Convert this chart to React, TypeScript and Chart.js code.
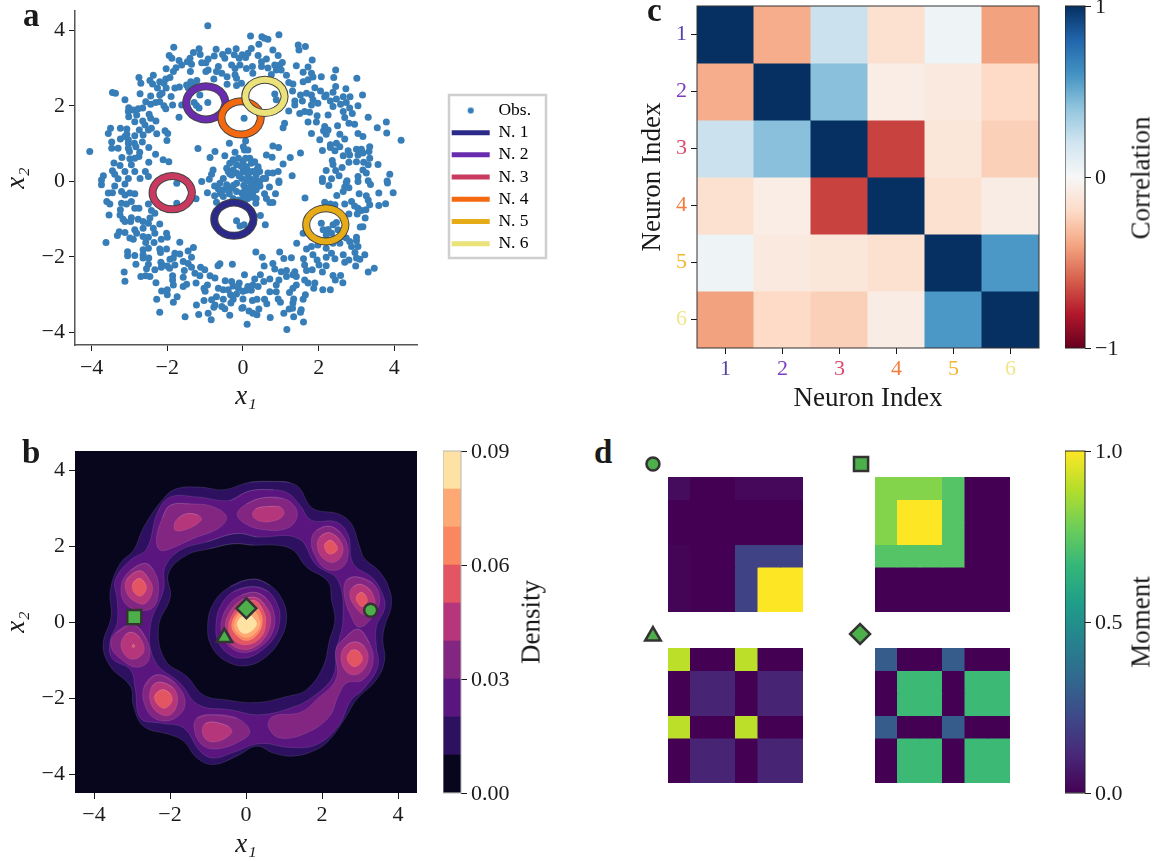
import React, { useEffect, useRef } from "react";
import { Chart, registerables } from "chart.js";

Chart.register(...registerables);

type Pt = [number, number];

const obsUpperLeft: Pt[] = [[-.93,4.12],[-1.83,3.55],[-1.95,3.33],[-1.88,3.26],[-1.69,3.2],[-1.62,3.08],[-1.77,3.01],[-1.84,2.91],[-2.03,2.98],[-1.4,3.26],[-1.31,3.41],[-1.16,3.51],[-1.13,3.36],[-1.47,3.17],[-1.36,3.1],[-1.39,2.91],[-1.09,3.14],[-.98,3.14],[-.92,3.24],[-.76,3.32],[-.71,3.5],[-.54,3.36],[-.48,3.26],[-.39,3.45],[-.18,3.51],[-.23,3.35],[-.1,3.26],[-.02,3.35],[-.3,3.08],[-.21,2.99],[-.08,3.08],[-.65,3.04],[-.7,2.91],[-.56,2.86],[-.77,2.71],[-.92,2.95],[-.98,2.91],[-.42,2.77],[-.42,2.57],[-.21,2.82],[-.17,2.54],[-.04,2.6],[-.17,2.73],
[-2.75,2.75],[-2.7,2.6],[-2.37,2.81],[-2.46,2.67],[-2.39,2.58],[-2.26,2.47],[-2.2,2.64],[-2.04,2.71],[-1.93,2.75],[-2.09,2.6],[-2.03,2.47],[-1.8,2.47],[-1.68,2.5],[-1.49,2.55],[-1.38,2.64],[-1.22,2.67],[-1.31,2.54],[-1.45,2.48],
[-2.72,2.32],[-3.45,2.35],[-3.37,2.33],[-3.12,2.16],[-2.44,2.26],[-2.2,2.29],[-2.14,2.33],[-1.9,2.25],[-2.57,2.11],[-2.44,2.04],[-2.31,2.09],[-2.2,2.11],[-2.09,2],[-2.04,1.92],[-1.86,2.02],[-1.62,2.02],[-1.69,1.7],
[-1.14,2.29],[-1.29,2.09],[-1.23,2.01],[-1.16,1.94],[-.93,2.09],
[-3.02,1.95],[-3.03,1.85],[-3.02,1.71],[-2.9,1.89],[-2.77,1.92],[-2.65,1.94],[-2.81,1.76],[-2.65,1.6],[-2.86,1.58],[-2.48,1.78],[-2.44,1.67],[-2.3,1.6],[-2.59,1.49],[-2.42,1.41],[-2.5,1.36],[-2.74,1.36],[-2.64,1.23],[-2.28,1.26],[-2.06,1.34],[-1.99,1.27],[-2.01,1.08],[-3.24,1.41],[-3.5,1.41],[-3.56,1.27],[-3.07,1.39],[-3.07,1.25],[-2.86,1.21],[-3.24,1.12],[-3.12,1.19],[-3.03,1.1],[-3.47,1.04],[-3.47,.88],[-3.3,.88],[-3.03,1.01],[-3.03,.88],[-2.87,1.01],[-2.66,1.04],[-2.49,.9],[-2.83,.92],[-3,.79],[-2.73,.77],[-2.75,.66],[-2.31,.72],[-3.2,.63],[-2.99,.6],[-2.86,.61],[-2.11,.57],[-1.96,.52],[-2.49,.51],[-3.41,.49],[-3.25,.42],[-2.95,.44],[-4.05,.79],[-3.12,.26],[-2.86,.26],[-2.58,.26],[-3.45,.28],[-3.39,.19],[-3.69,.15],[-3.74,.04],[-3.3,.07],[-3.03,.08],[-2.72,.08],[-2.5,.13],
[-1.19,.87],[-.74,.79],[-.87,.63],[-.36,1.01],[-.48,.68],[-.21,.77],[.01,.92],[.03,1.67],[-.79,.3],[-.83,.19],[-.89,.06],[-.52,.08],[-.43,.35],[-.39,.26],[-.26,.57],[-.12,.61],[-.17,.44],[0,.52],[-.17,.22],[0,.26],[-.26,.3],[-.3,.17],[-.03,.08]];

const obsUpperRight: Pt[] = [[.2,3.85],[.95,3.88],[.5,3.83],[.57,3.79],[.66,3.76],[.42,3.63],[.22,3.52],[.79,3.48],[.13,3.39],[.93,3.33],[.4,3.33],[.62,3.24],[.07,3.28],[1.04,3.15],[.49,3.17],[.97,3.08],[.84,3.08],[1.46,3.61],[1.65,3.57],[1.48,3.48],[1.83,3.21],[1.41,3.06],[1.72,3.03],[.25,3.04],[.49,3.04],[.66,3],[.88,2.95],[1.01,2.95],[.09,2.99],[2.45,2.95],[1.59,2.89],[1.81,2.86],[2.07,2.77],[2.4,2.75],[3.01,2.73],[1.15,2.81],[.75,2.83],[.26,2.86],[1.72,2.69],[1.85,2.76],[1.59,2.64],[1.21,2.62],[1.32,2.58],[1.31,2.39],[1.9,2.48],[2.05,2.39],[2.45,2.51],[2.72,2.45],[.84,2.31],[.88,2.16],[1.52,2.29],[1.68,2.33],[1.81,2.29],[2.2,2.29],[2.38,2.36],[2.65,2.24],[2.83,2.24],[3.16,2.29],[1.37,2.13],[1.57,2.13],[1.85,2.16],[2.16,2.24],[2.31,2.13],[2.47,2.18],[1.37,2.02],[1.81,2.02],[1.98,2.07],[2.38,1.98],[2.58,2.04],[2.73,2.09],[3.04,2],[1.21,1.86],[1.5,1.8],[1.63,1.85],[1.76,1.83],[1.96,1.74],[2.25,1.76],[2.65,1.85],[2.82,1.94],[2.89,1.8],[2.69,1.69],[3.31,1.7],[3.79,1.57],[1.72,1.57],[1.94,1.57],[1.1,1.54],[1.06,1.42],[2.5,1.47],[2.8,1.54],[2.95,1.51],[3.55,1.42],[3.8,1.28],[2.16,1.45],[2.13,1.34],[2.25,1.36],[1.81,1.27],[2.2,1.25],[2.56,1.25],[3.04,1.27],[3.17,1.19],[4.18,1.09],[2.03,1.1],[2.69,1.12],[2.47,1.01],[2.31,.97],[.79,.94],[.94,.9],[3.35,.92],[2.31,.9],[2.56,.92],[2.1,.82],[1.52,.75],[2.43,.81],[2.78,.81],[3,.85],[3.13,.85],[3.33,.79],[2.65,.68],[2.82,.7],[3.04,.7],[3.17,.75],[.62,.7],[.77,.64],[1.25,.63],[3.35,.61],[2.36,.55],[2.38,.45],[2.8,.51],[3,.52],[3.19,.51],[1.06,.46],[3.57,.45],[3.31,.44],[2.62,.37],[2.2,.29],[2.45,.29],[3.17,.3],[3.88,.19],[3.26,.22],[3.04,.13],[2.54,.15],[2.34,.07],[2.1,.08],[1.3,.15],[2.75,.02],[3.31,.02],[3.81,.01],
[.07,1.07],[.04,.83],[.13,.83],[.18,.61],[.31,.52],[.07,.61],[.4,.39],[.09,.39],[.22,.48],[.07,.26],[.26,.26],[.44,.26],[.66,.22],[.79,.22],[.93,.26],[.53,.08],[.18,.08],[.95,.01],[.35,.17],[.13,.17]];

const obsLowerLeft: Pt[] = [[-3.74,-.09],[-3.39,-.12],[-3.12,-.07],[-3.56,-.31],[-3.45,-.3],[-3.21,-.27],[-3.12,-.36],[-2.99,-.31],[-2.86,-.33],[-3.6,-.53],[-3.52,-.6],[-3.21,-.58],[-3.08,-.6],[-2.95,-.53],[-2.86,-.71],[-2.75,-.71],[-2.5,-.6],[-2.42,-.77],[-2.33,-.84],[-3.54,-.89],[-3.24,-.75],[-3.25,-.89],[-3.17,-1],[-3.12,-1.06],[-2.95,-.96],[-2.97,-1.06],[-2.77,-1],[-2.64,-1.06],[-2.46,-.97],[-2.2,-1.13],[-2.5,-1.11],[-2.64,-1.24],[-2.37,-1.24],[-3.27,-1.33],[-3.32,-1.43],[-3.12,-1.35],[-2.86,-1.28],[-2.99,-1.5],[-2.9,-1.53],[-2.81,-1.37],[-2.64,-1.46],[-2.5,-1.48],[-2.33,-1.37],[-2.02,-1.37],[-2,-1.48],[-2.16,-1.53],[-2.57,-1.62],[-2.35,-1.62],[-3.62,-1.62],[-1.67,-1.61],
[-2.5,-1.77],[-2.64,-1.81],[-2.2,-1.79],[-2.02,-1.79],[-2.18,-1.88],[-1.31,-1.75],[-1.45,-1.84],[-3.05,-1.86],[-3.05,-1.97],[-2.86,-1.96],[-2.64,-1.94],[-1.8,-1.9],[-1.67,-1.92],[-2.64,-2.03],[-2.49,-2.03],[-1.84,-2.03],[-1.93,-2.06],[-1.36,-2.01],[-2.17,-2.14],[-2.83,-2.19],[-2.5,-2.19],[-2.13,-2.21],[-2,-2.24],[-1.8,-2.21],[-1.58,-2.12],[-1.45,-2.17],[-.61,-2.18],[-.66,-2.23],[-.28,-2.19],[-2.55,-2.31],[-2.33,-2.34],[-2.16,-2.27],[-1.94,-2.3],[-1.36,-2.27],[-1.12,-2.27],[-1.01,-2.34],[-1.55,-2.36],[-3.14,-2.4],[-3.12,-2.64],[-2.7,-2.52],[-2.57,-2.5],[-2.46,-2.52],[-1.86,-2.5],[-1.58,-2.54],[-1.27,-2.43],[-1.14,-2.5],[-.87,-2.5],[-.74,-2.56],[-2.3,-2.68],[-1.86,-2.61],[-1.84,-2.74],[-1.24,-2.69],[-1.49,-2.72],[-1.58,-2.78],[-.94,-2.74],[-1.03,-2.83],[-.47,-2.63],[-.3,-2.65],[-.1,-2.69],[-.26,-2.77],[-2.15,-2.9],[-2,-2.87],[-2,-3],[-1,-2.91],[-.65,-2.83],[-.52,-2.87],[-.39,-2.87],[-.12,-2.83],[-2.28,-3.12],[-1.74,-3.05],[-1.84,-3.2],[-.7,-3.05],[-.33,-3],[-.17,-2.98],[0,-2.91],[-.83,-3.13],[-1.03,-3.15],[-1.23,-3.27],[-.52,-3.12],[-.26,-3.12],[-.74,-3.27],[-.77,-3.33],[-.56,-3.31],[-.48,-3.37],[-.32,-3.22],[-.03,-3.36],[-2.2,-3.46],[-1.53,-3.58],[-1.17,-3.52],[-.92,-3.49],[-.84,-3.66],[-.35,-3.54],
[-1.75,-.58],[-1.75,-.05],[-1.24,-.46],[-.94,-.3],[-.7,-.55],[-.61,-.05],[-.52,-.23],[-.43,-.09],[-.3,-.18],[-.17,-.27],[-.03,-.31],[-.17,-.05],[.05,-.14],[-.52,-.4],[-.26,-.45],[-.12,-.49],[-.17,-1.04],[-.08,-1.18],[.03,-1.15],[0,-.45],[-1.09,0]];

const obsLowerRight: Pt[] = [[.95,-.03],[.31,-.09],[.44,0],[.26,0],[.18,-.18],[.35,-.22],[.04,-.27],[.26,-.36],[.35,-.45],[.57,-.33],[.86,-.33],[.62,-.45],[.71,-.56],[.79,-.56],[.13,-.45],[.34,-.58],[.46,-.9],[.59,-1.15],[1.64,-.44],
[2.1,0],[2.27,-.11],[2.73,-.03],[2.69,-.15],[2.8,-.17],[3.04,0],[3.37,-.08],[3.82,-.04],[2.48,-.37],[2.65,-.27],[3.07,-.33],[3.26,-.38],[3.59,-.31],[3.97,-.3],[3.31,-.49],[2.69,-.6],[2.87,-.53],[3.35,-.62],[2.95,-.65],[3.04,-.71],[3.13,-.77],[3.25,-.75],[3.59,-.64],[3.77,-.59],[2.16,-.55],[2.31,-.6],[2.43,-.62],[3.02,-.86],[2.8,-.86],[3.23,-.97],[3.17,-1.2],[3.1,-1.21],[3,-1.48],[3,-1.57],
[2.07,-1.11],[2.12,-1.28],[2.25,-1.27],[2.38,-1.15],[2.47,-1.09],[2.34,-1.37],[2.2,-1.42],[2.51,-1.28],
[1.59,-1.37],[1.42,-1.64],[1.68,-1.79],[1.81,-1.72],[1.98,-1.68],[2.2,-1.77],[2.38,-1.64],[2.56,-1.64],[2.73,-1.5],[2.82,-1.59],[2.87,-1.72],[3.04,-1.72],[2.65,-1.46],
[.34,-1.87],[.97,-1.87],[.51,-2.01],[1.08,-2.04],[1.28,-2.02],[1.6,-2.05],[1.85,-1.94],[1.96,-2.08],[2.2,-2.01],[2.34,-1.9],[2.43,-2.05],[2.65,-1.94],[2.96,-1.88],[3,-2.03],[3.22,-1.94],[3.09,-2.06],[.79,-2.17],[.56,-2.24],[.84,-2.32],[1.63,-2.21],[2.01,-2.21],[2.2,-2.23],[2.69,-2.14],[2.8,-2.08],[2.98,-2.24],[3.47,-2.3],[3.31,-2.4],[1.01,-2.39],[1.15,-2.36],[1.37,-2.39],[1.68,-2.36],[1.83,-2.34],[2.1,-2.4],[.04,-2.47],[.46,-2.47],[1.15,-2.52],[1.32,-2.47],[1.41,-2.52],[2.38,-2.49],[2.58,-2.49],[2.44,-2.61],[2.64,-2.68],
[.31,-2.58],[.71,-2.58],[.55,-2.65],[.95,-2.61],[1.63,-2.61],[1.72,-2.69],[1.9,-2.69],[1.87,-2.83],[2.11,-2.87],[2.31,-2.87],[.88,-2.74],[1.41,-2.74],[1.32,-2.83],[.13,-2.78],[.26,-2.74],[.4,-2.78],[.09,-2.88],[.22,-2.88],[.71,-2.92],[.88,-2.92],[1.23,-2.94],[1.65,-3],[1.59,-3.12],[0,-3.11],[.25,-3.15],[.37,-3.12],[.57,-3.12],[.93,-3.11],[1.34,-3.11],[.99,-3.2],[.63,-3.24],[1.32,-3.22],[1.54,-3.4],[1.52,-3.46],[1.31,-3.36],[1.22,-3.38],[0,-3.34],[.42,-3.38],[.16,-3.43],[.26,-3.49],[.37,-3.53],[1.08,-3.49],[.72,-3.6],[1.34,-3.58],[.11,-3.78],[1.6,-3.72],[1.16,-3.92]];

const obsCentre: Pt[] = [[-.35,.48],[-.05,.4],[-.35,.2],[-.1,.14],[.12,.3],[.36,.3],[.33,.05],[.6,.08],[.1,.02],[-.25,-.1],[-.45,-.18],[.02,-.1],[.22,-.1],[.2,-.3],[-.36,-.33],[.1,-.35],[.25,-.42],[.05,-.52],[-.65,-.2],[-.75,-.12],[-.6,-.32],[-.75,-.38],[.45,-.12],[.7,-.15]];

const neuronNames = ["N. 1", "N. 2", "N. 3", "N. 4", "N. 5", "N. 6"];
const neuronColors = ["#2c2a89", "#6a2cae", "#c83a5f", "#f4680f", "#e6ac17", "#ebe27a"];
const neuronTickColors = ["#5145ab", "#7a3dbd", "#dd4a6d", "#f47c3c", "#f1b62e", "#f0e68c"];
const ringCenterX = [-0.24, -0.98, -1.87, -0.05, 2.19, 0.58];
const ringCenterY = [-1.0, 2.08, -0.3, 1.68, -1.15, 2.25];
const ringShape: Pt[] = [[.52,0],[.45,.22],[.26,.38],[0,.44],[-.26,.38],[-.45,.22],[-.52,0],[-.45,-.22],[-.26,-.38],[0,-.44],[.26,-.38],[.45,-.22]];
const axisTicks = [-4, -2, 0, 2, 4];

// ---------- Panel b: density contours ----------
const bandColors = ["#07061c", "#2d1160", "#5a167e", "#832681", "#b5367a", "#e45563", "#fb8761", "#fea973", "#fde2a3"];
const bandEdges = [0, .01, .02, .03, .04, .05, .06, .07, .08, .09];
const densityTicks = [0, .03, .06, .09];

const ringOuter1: Pt[] = [[.76,3.7],[1.15,3.67],[1.42,3.51],[1.64,3.11],[1.85,2.94],[2.42,2.85],[2.77,2.59],[2.99,1.98],[3.12,1.67],[3.52,1.32],[3.78,.84],[3.82,.4],[3.65,-.12],[3.6,-.47],[3.65,-1],[3.43,-1.52],[2.9,-2.05],[2.64,-2.48],[2.2,-3.1],[1.85,-3.36],[1.24,-3.53],[.72,-3.45],[.28,-3.27],[-.24,-3.53],[-.86,-3.75],[-1.29,-3.58],[-1.64,-3.14],[-1.99,-2.97],[-2.69,-2.75],[-2.96,-2.22],[-3.04,-1.7],[-3.57,-1.17],[-3.76,-.6],[-3.55,.14],[-3.57,.84],[-3.31,1.54],[-2.96,1.89],[-2.69,2.5],[-2.17,3.25],[-1.82,3.51],[-1.21,3.55],[-.59,3.48],[.1,3.68]];
const ringInner1: Pt[] = [[-.33,2.06],[.19,2.02],[.8,2.02],[1.24,1.89],[1.59,1.45],[2.16,1.06],[2.25,.58],[2.34,.05],[2.2,-.47],[2.03,-1.17],[1.59,-1.78],[1.07,-1.96],[.28,-2.12],[-.51,-2.05],[-1.12,-1.92],[-1.56,-1.43],[-2.13,-1],[-2.3,-.12],[-1.99,.66],[-2.04,1.28],[-1.56,1.76],[-.94,1.93]];
const ringOuter2: Pt[] = [[.1,3.45],[.72,3.48],[1.11,3.39],[1.42,3.07],[1.72,2.68],[2.38,2.63],[2.69,2.28],[2.82,1.54],[3.34,1.15],[3.6,.71],[3.65,.36],[3.43,-.12],[3.43,-.65],[3.47,-1.17],[3.08,-1.78],[2.77,-2.05],[2.42,-2.75],[1.85,-3.23],[1.15,-3.3],[.37,-3.2],[-.33,-3.43],[-.86,-3.58],[-1.21,-3.4],[-1.64,-2.79],[-2.26,-2.66],[-2.78,-2.53],[-2.91,-1.78],[-3.04,-1.26],[-3.53,-.95],[-3.57,-.47],[-3.39,-.03],[-3.39,.58],[-3.44,1.1],[-3.04,1.63],[-2.61,1.93],[-2.34,2.85],[-1.99,3.29],[-1.29,3.29],[-.42,3.2]];
const ringInner2: Pt[] = [[-.24,2.33],[.28,2.24],[1.37,2.2],[1.85,1.5],[2.42,1.1],[2.55,.05],[2.38,-.73],[2.29,-1.43],[1.77,-1.96],[1.24,-2.24],[.37,-2.44],[-.42,-2.31],[-1.25,-2.18],[-1.73,-1.61],[-2.39,-1.04],[-2.52,-.12],[-2.17,.84],[-2.13,1.45],[-1.73,1.89],[-1.03,2.11]];

const islands3: Pt[][] = [
  [[-1.99,3.07],[-1.47,3.11],[-.86,3.03],[-.51,2.76],[-.73,2.46],[-1.38,2.2],[-1.99,1.93],[-2.26,1.89],[-2.36,2.15],[-2.21,2.72]],
  [[.45,3.27],[.98,3.25],[1.29,3.03],[1.33,2.72],[1.07,2.46],[.45,2.43],[-.03,2.59],[-.23,2.85],[.02,3.11]],
  [[2.2,2.52],[2.51,2.33],[2.69,1.89],[2.55,1.45],[2.12,1.39],[1.81,1.76],[1.72,2.15],[1.85,2.41]],
  [[2.9,1.19],[3.34,1.01],[3.52,.62],[3.39,.23],[2.99,-.14],[2.73,.23],[2.58,.75],[2.64,1.1]],
  [[2.95,-.19],[3.25,-.56],[3.34,-1.08],[3.08,-1.52],[2.64,-1.61],[2.42,-1.96],[2.2,-2.48],[1.59,-2.92],[.89,-3.05],[.59,-2.75],[.72,-2.48],[1.42,-2.38],[1.85,-2.05],[2.38,-1.48],[2.36,-.73],[2.55,-.47]],
  [[-.94,-2.44],[-.24,-2.53],[.1,-2.88],[-.16,-3.14],[-.77,-3.34],[-1.16,-3.23],[-1.36,-2.83],[-1.29,-2.53]],
  [[-2.34,-1.39],[-1.86,-1.61],[-1.6,-2.13],[-1.86,-2.53],[-2.34,-2.57],[-2.65,-2.22],[-2.68,-1.7]],
  [[-2.96,-.08],[-2.61,-.47],[-2.56,-1],[-2.87,-1.19],[-3.26,-1],[-3.55,-.65],[-3.44,-.3]],
  [[-2.65,1.54],[-2.43,1.36],[-2.3,.93],[-2.43,.4],[-2.78,.31],[-3.18,.49],[-3.28,.97],[-3.04,1.36]],
];
const islands4: Pt[][] = [
  [[-1.56,2.85],[-1.25,2.81],[-1.18,2.68],[-1.51,2.46],[-1.84,2.4],[-1.89,2.55],[-1.8,2.72]],
  [[.45,3.03],[.89,3.03],[1,2.85],[.8,2.68],[.37,2.65],[.17,2.81],[.25,2.97]],
  [[2.2,2.35],[2.47,2.15],[2.55,1.85],[2.34,1.58],[2.03,1.67],[1.88,1.98],[1.94,2.24]],
  [[3.04,.99],[3.3,.8],[3.39,.4],[3.17,.18],[2.9,.36],[2.73,.71],[2.82,.93]],
  [[2.86,-.52],[3.12,-.65],[3.21,-1],[2.99,-1.35],[2.69,-1.35],[2.51,-1.04],[2.57,-.69]],
  [[-.86,-2.63],[-.46,-2.75],[-.38,-2.92],[-.73,-3.14],[-1.03,-3.11],[-1.15,-2.88],[-1.08,-2.68]],
  [[-2.26,-1.58],[-1.91,-1.74],[-1.8,-2.09],[-1.99,-2.44],[-2.3,-2.4],[-2.52,-2.09],[-2.48,-1.7]],
  [[-3,-.27],[-2.78,-.43],[-2.69,-.78],[-2.96,-.98],[-3.18,-.87],[-3.29,-.6],[-3.18,-.34]],
  [[-2.8,1.35],[-2.56,1.15],[-2.46,.84],[-2.65,.49],[-2.91,.53],[-3.13,.75],[-3.15,1.1]],
];
const islands5: Pt[][] = [
  [[2.22,2.15],[2.38,2.02],[2.4,1.89],[2.22,1.78],[2.09,1.89],[2.07,2.05]],
  [[3.04,.78],[3.17,.66],[3.19,.53],[3.08,.4],[2.95,.49],[2.9,.66]],
  [[2.86,-.73],[3.01,-.82],[3.06,-1],[2.9,-1.17],[2.75,-1.13],[2.66,-.95],[2.73,-.78]],
  [[-2.21,-1.78],[-1.99,-1.89],[-1.95,-2.09],[-2.13,-2.27],[-2.3,-2.2],[-2.41,-1.96]],
  [[-2.81,1.15],[-2.65,1.01],[-2.63,.84],[-2.78,.68],[-2.96,.8],[-2.98,1.01]],
  [[-2.96,-.58],[-2.93,-.66],[-3,-.66]],
];
const peakLevels: Pt[][] = [
  [[.19,1.13],[.63,.97],[.94,.62],[1.07,.14],[.94,-.38],[.54,-.91],[.02,-1.15],[-.51,-1.04],[-.9,-.65],[-1.01,-.12],[-.86,.49],[-.42,.93]],
  [[.19,.93],[.59,.8],[.85,.4],[.89,.05],[.76,-.38],[.37,-.78],[-.03,-.95],[-.42,-.87],[-.73,-.52],[-.79,-.08],[-.68,.4],[-.33,.8]],
  [[.24,.78],[.54,.62],[.74,.23],[.72,-.21],[.45,-.6],[.02,-.8],[-.38,-.69],[-.62,-.34],[-.64,.05],[-.42,.49],[-.11,.71]],
  [[.24,.65],[.5,.45],[.65,.1],[.54,-.34],[.24,-.65],[-.11,-.72],[-.46,-.52],[-.55,-.12],[-.42,.27],[-.11,.58]],
  [[.24,.56],[.45,.31],[.52,.01],[.41,-.38],[.02,-.6],[-.33,-.47],[-.46,-.12],[-.33,.23],[-.07,.49]],
  [[.19,.46],[.37,.27],[.43,.01],[.32,-.3],[.02,-.49],[-.26,-.34],[-.38,-.08],[-.24,.23],[-.03,.4]],
  [[.19,.31],[.32,.14],[.37,-.08],[.19,-.34],[-.03,-.4],[-.24,-.27],[-.31,-.08],[-.2,.18],[0,.31]],
  [[.1,.18],[.24,.05],[.28,-.08],[.1,-.27],[-.07,-.3],[-.2,-.17],[-.22,.01],[-.07,.16]],
];
const markerStyles = ["circle", "rect", "triangle", "rectRot"];
const markerRadius = [6.5, 10, 9, 10];
const stimulusX = [3.28, -2.94, -0.57, 0.01];
const stimulusY = [0.31, 0.13, -0.41, 0.36];
const markerGreen = "#4daf4a";
const markerEdge = "#333333";

// ---------- Panel c ----------
const neuronLabels = ["1", "2", "3", "4", "5", "6"];
const neuronIndex = [1, 2, 3, 4, 5, 6];
const correlation = [
  [1, -.37, .22, -.16, .05, -.41],
  [-.37, 1, .42, -.07, -.1, -.2],
  [.22, .42, 1, -.68, -.12, -.24],
  [-.16, -.07, -.68, 1, -.16, -.08],
  [.05, -.1, -.12, -.16, 1, .58],
  [-.41, -.2, -.24, -.08, .58, 1],
];
const rdBuStops = ["#67001f", "#b2182b", "#d6604d", "#f4a582", "#fddbc7", "#f7f7f7", "#d1e5f0", "#92c5de", "#4393c3", "#2166ac", "#053061"];
const corrTicks = [-1, 0, 1];

// ---------- Panel d ----------
const viridisStops = ["#440154", "#482878", "#3e4989", "#31688e", "#26828e", "#1f9e89", "#35b779", "#6ece58", "#b5de2b", "#fde725"];
const momentTicks = [0, .5, 1];
const momentCircle = [
  [.03, 0, 0, .02, .02, .02],
  [0, 0, 0, 0, 0, 0],
  [0, 0, 0, 0, 0, 0],
  [.01, 0, 0, .2, .2, .2],
  [.01, 0, 0, .2, 1, 1],
  [.01, 0, 0, .2, 1, 1],
];
const momentSquare = [
  [.81, .81, .81, .73, 0, 0],
  [.81, 1, 1, .73, 0, 0],
  [.81, 1, 1, .73, 0, 0],
  [.73, .73, .73, .73, 0, 0],
  [0, 0, 0, 0, 0, 0],
  [0, 0, 0, 0, 0, 0],
];
const momentTriangle = [
  [.9, 0, 0, .9, 0, 0],
  [0, .1, .1, 0, .1, .1],
  [0, .1, .1, 0, .1, .1],
  [.9, 0, 0, .9, 0, 0],
  [0, .1, .1, 0, .1, .1],
  [0, .1, .1, 0, .1, .1],
];
const momentDiamond = [
  [.29, 0, 0, .29, 0, 0],
  [0, .68, .68, 0, .68, .68],
  [0, .68, .68, 0, .68, .68],
  [.29, 0, 0, .29, 0, 0],
  [0, .68, .68, 0, .68, .68],
  [0, .68, .68, 0, .68, .68],
];
const panelMarkerX = [.054, .921, .054, .917];
const panelMarkerY = [.93, .93, .07, .08];

// ---------- helpers ----------
const SERIF = '"Liberation Serif"';
const TICK_FONT = { family: SERIF, size: 22 };
const TITLE_FONT = { family: SERIF, size: 27 };
const INK = "#1a1a1a";

const hex = (h: string) => [1, 3, 5].map((i) => parseInt(h.slice(i, i + 2), 16));
function ramp(stops: string[], t: number) {
  const p = Math.max(0, Math.min(1, t)) * (stops.length - 1);
  const i = Math.min(Math.floor(p), stops.length - 2);
  const a = hex(stops[i]);
  const b = hex(stops[i + 1]);
  const c = a.map((v, k) => Math.round(v + (b[k] - v) * (p - i)));
  return `rgb(${c[0]},${c[1]},${c[2]})`;
}
const signed = (v: number) => (v < 0 ? "\u2212" + Math.abs(v) : String(v));
const fixedTicks = (vals: number[]) => (s: any) => {
  s.ticks = vals.map((value) => ({ value }));
};
const wrapLoop = (pts: Pt[]) =>
  [pts[pts.length - 1], ...pts, pts[0], pts[1]].map(([x, y]) => ({ x, y }));
// keep the plot box pinned: no extra room for overhanging tick labels
const pinScale = (s: any, prop: "width" | "height", size: number) => {
  s[prop] = size;
  s.paddingTop = s.paddingBottom = s.paddingLeft = s.paddingRight = 0;
};

const framePlugin = {
  id: "frame",
  afterDraw(chart: any, _a: any, o: any) {
    if (!o || !o.color) return;
    const { left, top, right, bottom } = chart.chartArea;
    const c = chart.ctx;
    c.save();
    c.strokeStyle = o.color;
    c.lineWidth = o.width || 1;
    c.strokeRect(left, top, right - left, bottom - top);
    c.restore();
  },
};
const plotBgPlugin = {
  id: "plotBg",
  beforeDatasetsDraw(chart: any, _a: any, o: any) {
    if (!o || !o.color) return;
    const { left, top, right, bottom } = chart.chartArea;
    chart.ctx.save();
    chart.ctx.fillStyle = o.color;
    chart.ctx.fillRect(left, top, right - left, bottom - top);
    chart.ctx.restore();
  },
};
const legendPlacePlugin = {
  id: "legendPlace",
  afterLayout(chart: any) {
    const l = chart.legend;
    l.left = 447;
    l.right = 447 + 105;
    l.top = 97;
    l.bottom = 97 + 165;
  },
  afterDraw(chart: any) {
    const c = chart.ctx;
    c.save();
    c.strokeStyle = "#cfcfcf";
    c.lineWidth = 2.5;
    c.strokeRect(449, 95, 97, 163);
    c.restore();
  },
};

const baseOptions = (padding: any) => ({
  responsive: false,
  animation: false,
  layout: { autoPadding: false, padding },
  plugins: { legend: { display: false }, tooltip: { enabled: false } } as any,
});

const xyAxis = (position: string, size: number, min: number, max: number, vals: number[], title: string, spine: any, titlePad: any, tickPad: number) => ({
  type: "linear",
  position,
  min,
  max,
  afterFit: (s: any) => pinScale(s, position === "bottom" ? "height" : "width", size),
  afterBuildTicks: fixedTicks(vals),
  grid: { drawOnChartArea: false, drawTicks: true, tickLength: 6, tickColor: INK, tickWidth: 1 },
  border: spine,
  ticks: { font: TICK_FONT, color: INK, padding: tickPad, maxRotation: 0, autoSkip: false, callback: (v: number) => signed(v) },
  title: { display: true, text: title, font: { ...TITLE_FONT, style: "italic" }, color: INK, padding: titlePad },
});

// heat-map cells as floating bars: one bar dataset per row
const cellDatasets = (rows: number[][], color: (v: number) => string) =>
  rows.map((row, r) => ({
    type: "bar",
    data: row.map(() => [r + 0.5, r + 1.5]),
    backgroundColor: row.map(color),
    grouped: false,
    barPercentage: 1,
    categoryPercentage: 1,
    borderWidth: 0,
    inflateAmount: .5,
  }));

function heatChart(rows: number[][], color: (v: number) => string) {
  const o: any = baseOptions(0);
  o.scales = {
    x: { type: "category", display: false },
    y: { type: "linear", display: false, min: .5, max: 6.5, reverse: true },
  };
  return { type: "bar", data: { labels: neuronLabels, datasets: cellDatasets(rows, color) }, options: o };
}

function colorbar(datasets: any[], min: number, max: number, ticks: number[], fmt: (v: number) => string, mr: number, frame: string, top: number) {
  const o: any = baseOptions({ top, bottom: 14, left: 0, right: 0 });
  o.plugins.frame = { color: frame, width: 1 };
  o.scales = {
    x: { type: "category", display: false, afterFit: (s: any) => pinScale(s, "height", 0) },
    y: {
      type: "linear",
      position: "right",
      min,
      max,
      afterFit: (s: any) => pinScale(s, "width", mr),
      afterBuildTicks: fixedTicks(ticks),
      grid: { drawOnChartArea: false, drawTicks: true, tickLength: 6, tickColor: INK, tickWidth: 1 },
      border: { display: false },
      ticks: { font: TICK_FONT, color: INK, padding: 4, labelOffset: 1.5, autoSkip: false, callback: (v: number) => fmt(v) },
    },
  };
  return { type: "bar", data: { labels: [""], datasets }, options: o, plugins: [framePlugin] };
}
const gradientBar = (stops: string[], min: number, max: number) => ({
  data: [[min, max]],
  barPercentage: 1,
  categoryPercentage: 1,
  borderWidth: 0,
  backgroundColor: (ctx: any) => {
    const a = ctx.chart.chartArea;
    if (!a) return stops[0];
    const g = ctx.chart.ctx.createLinearGradient(0, a.bottom, 0, a.top);
    stops.forEach((s, i) => g.addColorStop(i / (stops.length - 1), s));
    return g;
  },
});

// ---------- configs ----------
function panelA() {
  const obs = [...obsUpperLeft, ...obsUpperRight, ...obsLowerLeft, ...obsLowerRight, ...obsCentre].map(([x, y]) => ({ x, y }));
  const datasets: any[] = [
    { label: "Obs.", data: obs, backgroundColor: "#377eb8", borderWidth: 0, pointRadius: 3.5, order: 100 },
  ];
  neuronNames.forEach((name, i) => {
    const pts = wrapLoop(ringShape.map(([dx, dy]) => [ringCenterX[i] + dx, ringCenterY[i] + dy] as Pt));
    const common = { data: pts, showLine: true, tension: .4, pointRadius: 0, fill: false };
    datasets.push({ ...common, label: name + " edge", borderColor: "#444444", borderWidth: 8, order: 50 - 2 * i });
    datasets.push({ ...common, label: name, borderColor: neuronColors[i], borderWidth: 6, order: 49 - 2 * i });
  });
  const dot = document.createElement("canvas");
  dot.width = dot.height = 8;
  const d = dot.getContext("2d")!;
  d.fillStyle = "#377eb8";
  d.arc(4, 4, 3.1, 0, Math.PI * 2);
  d.fill();
  const o: any = baseOptions({ top: 11, right: 143 });
  o.plugins.legend = {
    display: true,
    position: "chartArea",
    align: "start",
    labels: {
      font: { family: SERIF, size: 17.5 },
      color: INK,
      usePointStyle: true,
      pointStyleWidth: 38,
      padding: 4.7,
      generateLabels: () => [
        { text: "Obs.", pointStyle: dot, fillStyle: "#377eb8", strokeStyle: "#377eb8", lineWidth: 0, hidden: false },
        ...neuronNames.map((text, i) => ({ text, pointStyle: "line", fillStyle: neuronColors[i], strokeStyle: neuronColors[i], lineWidth: 5, hidden: false })),
      ],
    },
  };
  const spine = { display: true, color: "#555555", width: 1.5 };
  o.scales = {
    x: xyAxis("bottom", 68, -4.44, 4.6, axisTicks, "x\u2081", spine, 0, 4),
    y: xyAxis("left", 75, -4.33, 4.51, axisTicks, "x\u2082", spine, { top: 1 }, 4),
  };
  return { type: "scatter", data: { datasets }, options: o, plugins: [legendPlacePlugin] };
}

function panelB() {
  const contour = (pts: Pt[], color: string, order: number) => ({
    data: wrapLoop(pts),
    showLine: true,
    tension: .4,
    pointRadius: 0,
    fill: "shape",
    backgroundColor: color,
    borderColor: "rgba(255,255,255,0.2)",
    borderWidth: .5,
    order,
  });
  const datasets: any[] = [
    contour(ringOuter1, bandColors[1], 100),
    contour(ringOuter2, bandColors[2], 99),
    contour(ringInner2, bandColors[1], 98),
    contour(ringInner1, bandColors[0], 97),
    ...islands3.map((p) => contour(p, bandColors[3], 90)),
    ...islands4.map((p) => contour(p, bandColors[4], 89)),
    ...islands5.map((p) => contour(p, bandColors[5], 88)),
    ...peakLevels.map((p, i) => contour(p, bandColors[i + 1], 80 - i)),
    {
      data: stimulusX.map((x, i) => ({ x, y: stimulusY[i] })),
      pointStyle: markerStyles,
      pointRadius: markerRadius,
      backgroundColor: markerGreen,
      borderColor: markerEdge,
      borderWidth: 2.5,
      order: 1,
    },
  ];
  const o: any = baseOptions({ top: 11, right: 5 });
  o.plugins.plotBg = { color: bandColors[0] };
  const spine = { display: false };
  o.scales = {
    x: xyAxis("bottom", 68, -4.5, 4.5, axisTicks, "x\u2081", spine, 0, 3),
    y: xyAxis("left", 75, -4.5, 4.5, axisTicks, "x\u2082", spine, { top: 1 }, 4),
  };
  return { type: "scatter", data: { datasets }, options: o, plugins: [plotBgPlugin] };
}

function densityBar() {
  const datasets = bandColors.map((c, i) => ({
    data: [[bandEdges[i], bandEdges[i + 1]]],
    backgroundColor: c,
    grouped: false,
    barPercentage: 1,
    categoryPercentage: 1,
    borderWidth: 0,
  }));
  return colorbar(datasets, 0, .09, densityTicks, (v) => v.toFixed(2), 70, "#b5b5b5", 16);
}

function panelC() {
  const color = (v: number) => ramp(rdBuStops, (v + 1) / 2);
  const o: any = baseOptions({ top: 6, right: 5 });
  o.plugins.frame = { color: "#333333", width: 1 };
  const grid = { drawOnChartArea: false, drawTicks: true, tickLength: 6, tickColor: INK, tickWidth: 1 };
  o.scales = {
    x: {
      type: "category",
      afterFit: (s: any) => pinScale(s, "height", 67),
      grid: { ...grid, offset: false },
      border: { display: false },
      ticks: { font: TICK_FONT, color: neuronTickColors, padding: 2, maxRotation: 0 },
      title: { display: true, text: "Neuron Index", font: TITLE_FONT, color: INK, padding: 0 },
    },
    y: {
      type: "linear",
      min: .5,
      max: 6.5,
      reverse: true,
      afterFit: (s: any) => pinScale(s, "width", 60),
      afterBuildTicks: fixedTicks(neuronIndex),
      grid,
      border: { display: false },
      ticks: { font: TICK_FONT, color: neuronTickColors, padding: 4, autoSkip: false },
      title: { display: true, text: "Neuron Index", font: TITLE_FONT, color: INK, padding: 0 },
    },
  };
  return {
    type: "bar",
    data: { labels: neuronLabels, datasets: cellDatasets(correlation, color) },
    options: o,
    plugins: [framePlugin],
  };
}

function markerOverlay() {
  const o: any = baseOptions(0);
  o.scales = {
    x: { type: "linear", display: false, min: 0, max: 1 },
    y: { type: "linear", display: false, min: 0, max: 1 },
  };
  return {
    type: "scatter",
    data: {
      datasets: [{
        data: panelMarkerX.map((x, i) => ({ x, y: panelMarkerY[i] })),
        pointStyle: markerStyles,
        pointRadius: markerRadius,
        backgroundColor: markerGreen,
        borderColor: markerEdge,
        borderWidth: 2.5,
      }],
    },
    options: o,
  };
}

const viridis = (v: number) => ramp(viridisStops, v);

const PANELS: { l: number; t: number; w: number; h: number; make: () => any }[] = [
  { l: 0, t: 0, w: 560, h: 413, make: panelA },
  { l: 0, t: 440, w: 422, h: 421, make: panelB },
  { l: 443, t: 435, w: 88, h: 372, make: densityBar },
  { l: 637, t: 0, w: 407, h: 415, make: panelC },
  { l: 1065, t: 0, w: 70, h: 362, make: () => colorbar([gradientBar(rdBuStops, -1, 1)], -1, 1, corrTicks, signed, 50, "#222222", 6) },
  { l: 668, t: 477, w: 135, h: 135, make: () => heatChart(momentCircle, viridis) },
  { l: 875, t: 477, w: 135, h: 135, make: () => heatChart(momentSquare, viridis) },
  { l: 668, t: 648, w: 135, h: 135, make: () => heatChart(momentTriangle, viridis) },
  { l: 875, t: 648, w: 135, h: 135, make: () => heatChart(momentDiamond, viridis) },
  { l: 640, t: 450, w: 240, h: 200, make: markerOverlay },
  { l: 1065, t: 435, w: 80, h: 372, make: () => colorbar([gradientBar(viridisStops, 0, 1)], 0, 1, momentTicks, (v) => v.toFixed(1), 60, "#222222", 16) },
];

const LETTERS = [
  { text: "a", x: 23, y: -3 },
  { text: "b", x: 22, y: 434 },
  { text: "c", x: 647, y: -8 },
  { text: "d", x: 594, y: 434 },
];
const SIDE_TITLES = [
  { text: "Density", x: 531, y: 622 },
  { text: "Correlation", x: 1141, y: 178 },
  { text: "Moment", x: 1141, y: 622 },
];

export default function App() {
  const refs = useRef<(HTMLCanvasElement | null)[]>([]);
  useEffect(() => {
    const charts = PANELS.map((p, i) => new Chart(refs.current[i] as any, p.make()));
    return () => charts.forEach((c) => c.destroy());
  }, []);
  return (
    <div style={{ position: "absolute", left: 0, top: 0, width: 1159, height: 861, background: "#fff", overflow: "hidden", fontFamily: SERIF, color: INK }}>
      {PANELS.map((p, i) => (
        <canvas
          key={i}
          ref={(el) => { refs.current[i] = el; }}
          width={p.w}
          height={p.h}
          style={{ position: "absolute", left: p.l, top: p.t, width: p.w, height: p.h }}
        />
      ))}
      {LETTERS.map((l) => (
        <span key={l.text} style={{ position: "absolute", left: l.x, top: l.y, fontSize: 33, fontWeight: 700, lineHeight: "36px" }}>{l.text}</span>
      ))}
      {SIDE_TITLES.map((s) => (
        <span key={s.text} style={{ position: "absolute", left: s.x, top: s.y, fontSize: 27, whiteSpace: "nowrap", transform: "translate(-50%,-50%) rotate(-90deg)" }}>{s.text}</span>
      ))}
    </div>
  );
}
